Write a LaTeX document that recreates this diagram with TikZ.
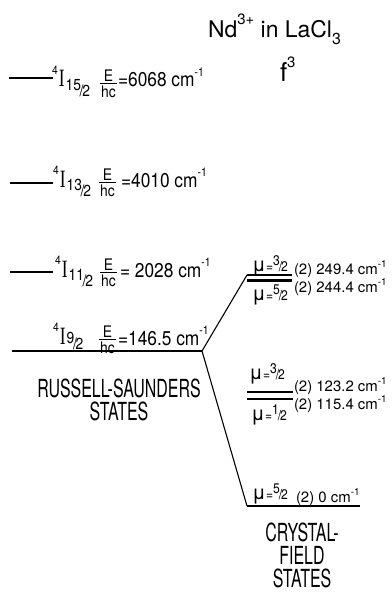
\documentclass[tikz,border=0pt]{standalone}
\usepackage{fontspec}
\setmainfont{TeX Gyre Heros}
\newfontfamily\labf{TeX Gyre Heros}[FakeStretch=0.87]
\newfontfamily\capsf{TeX Gyre Heros}[FakeStretch=0.64]
\newfontfamily\titlef{TeX Gyre Heros}
\newfontfamily\serI{Liberation Serif}[FakeStretch=0.7]
\newcommand\fs[1]{\fontsize{#1}{#1}\selectfont}
\newcommand\nut[2]{\raisebox{0.42em}{#1}\kern-0.08em/\kern-0.08em#2}
\newcommand\term[3][-10pt]{{\labf\raisebox{13pt}{\fs{12}4}\kern1.2pt{\serI\fs{25}I}\kern0.8pt\raisebox{#1}{\fs{16}\nut{#2}{#3}}}}
\newcommand\ehc{{\labf\fs{16}\vtop{\vbox{\hbox to 17pt{\hss E\hss}\kern1.3pt}\hrule height 0.9pt\kern2.2pt\hbox to 17pt{\hss hc\hss}}}}
\newcommand\val[1]{{\labf\fs{20}#1 cm\raisebox{11pt}{\fs{12}-1}}}
\newcommand\mulab[2]{{\fs{20}μ}{\labf\fs{14}\kern0.3pt=\nut{#1}{#2}}}
\newcommand\cval[1]{{\fs{15}(2) #1 cm\raisebox{7pt}{\fs{10}-1}}}
\begin{document}
\begin{tikzpicture}[x=1bp,y=-1bp,
  every node/.style={inner sep=0pt,outer sep=0pt},
  lvl/.style={line width=2.8bp},
  tie/.style={line width=1.1bp},
  bw/.style={anchor=base west},
  bc/.style={anchor=base},
  caps/.style={align=center,anchor=base,font={\capsf\fontsize{25}{23}\selectfont}}]
\useasboundingbox (0,0) rectangle (391,592);
% title
\node[bw] (title) at (208,38) {\titlef\fs{23}Nd\raisebox{14pt}{\fs{15}3+} in LaCl\raisebox{-7pt}{\fs{16}3}};
\node[bw] (fthree) at (280,82) {\titlef\fs{26}f\raisebox{15pt}{\fs{15}3}};
% left levels
\coordinate (a15) at (9,78);   \coordinate (b15) at (53,78);
\coordinate (a13) at (10,183); \coordinate (b13) at (53,183);
\coordinate (a11) at (10,272); \coordinate (b11) at (53,272);
\coordinate (a9)  at (12,351); \coordinate (b9)  at (58,351);
\coordinate (J)   at (202,351);
\draw[lvl] (a15) -- (b15);
\draw[lvl] (a13) -- (b13);
\draw[lvl] (a11) -- (b11);
\draw[lvl] (a9) -- (b9);
\draw[tie] (b9) -- (J);
% term labels
\node[bw] (t15) at (52,87)  {\term{15}{2}};
\node[bc] (f15) at (108.5,82.6) {\ehc};
\node[bw] (v15) at (118,87) {\val{=6068}};
\node[bw] (t13) at (53,187) {\term{13}{2}};
\node[bc] (f13) at (107.5,181.6) {\ehc};
\node[bw] (v13) at (121,187) {\val{=4010}};
\node[bw] (t11) at (55,277) {\term{11}{2}};
\node[bc] (f11) at (108.5,271.6) {\ehc};
\node[bw] (v11) at (120,277) {\val{= 2028}};
\node[bw] (t9) at (53,344) {\term[-6pt]{9}{2}};
\node[bc] (f9) at (107.5,338.6) {\ehc};
\node[bw] (v9) at (118,345) {\val{=146.5}};
% Russell-Saunders
\node[caps] (rs) at (119,420) {RUSSELL-SAUNDERS\\STATES};
% crystal field levels
\coordinate (u1) at (247,275);   \coordinate (u2) at (292,275);
\coordinate (w1) at (247,280.5); \coordinate (w2) at (292,280.5);
\coordinate (m1) at (247,392);   \coordinate (m2) at (293,392);
\coordinate (n1) at (247,399);   \coordinate (n2) at (293,399);
\coordinate (g1) at (247,506);   \coordinate (g2) at (293,506);
\coordinate (g3) at (360,506);
\draw[lvl] (u1) -- (u2);
\draw[lvl] (w1) -- (w2);
\draw[lvl] (m1) -- (m2);
\draw[lvl] (n1) -- (n2);
\draw[lvl] (g1) -- (g2);
\draw[tie] (g2) -- (g3);
\draw[tie] (J) -- (u1);
\draw[tie] (J) -- (g1);
% crystal labels
\node[bw] (mu1) at (252,271) {\mulab{3}{2}};
\node[bw] (cv1) at (294,274) {\cval{249.4}};
\node[bw] (cv2) at (294,292) {\cval{244.4}};
\node[bw] (mu2) at (252,300) {\mulab{5}{2}};
\node[bw] (mu3) at (249,379) {\mulab{3}{2}};
\node[bw] (cv3) at (294,391) {\cval{123.2}};
\node[bw] (cv4) at (294,409) {\cval{115.4}};
\node[bw] (mu4) at (251,420) {\mulab{1}{2}};
\node[bw] (mu5) at (252,499) {\mulab{5}{2}};
\node[bw] (cv5) at (296,502) {\cval{0}};
\node[caps] (cf) at (302,587) {CRYSTAL-\\FIELD\\STATES};
\end{tikzpicture}
\end{document}
